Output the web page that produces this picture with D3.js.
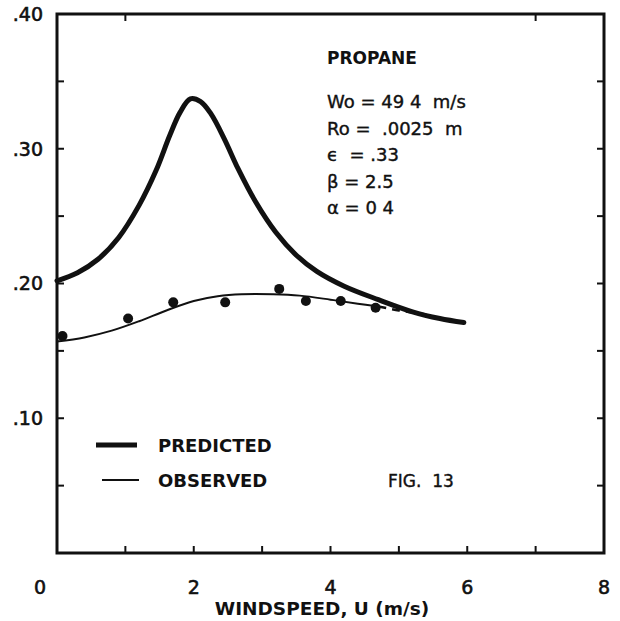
<!DOCTYPE html>
<html><head><meta charset="utf-8">
<script src="https://cdn.jsdelivr.net/npm/d3@7"></script>
<style>body{margin:0;background:#fff}svg{display:block}</style>
</head><body>
<script>
// ---- data ----
const xTicks = [0, 2, 4, 6, 8];
const yTicks = [0.10, 0.20, 0.30, 0.40];
const yTickLabels = [".10", ".20", ".30", ".40"];
const predicted = [[0,0.202],[0.3,0.208],[0.6,0.218],[0.9,0.234],[1.2,0.258],[1.45,0.284],[1.65,0.310],[1.8,0.327],[1.95,0.337],[2.1,0.335],[2.25,0.326],[2.45,0.307],[2.65,0.285],[2.9,0.261],[3.2,0.238],[3.5,0.221],[3.8,0.209],[4.2,0.198],[4.7,0.188],[5.2,0.179],[5.6,0.174],[5.95,0.171]];
const observed = [[0,0.157],[0.4,0.160],[0.8,0.165],[1.2,0.172],[1.6,0.180],[2.0,0.187],[2.35,0.1905],[2.7,0.192],[3.16,0.192],[3.55,0.191],[4.0,0.188],[4.4,0.185],[4.7,0.183]];
const observedExt = [[4.7,0.183],[5.0,0.180],[5.4,0.177]];
const points = [[0.08,0.161],[1.04,0.174],[1.70,0.186],[2.46,0.186],[3.25,0.196],[3.64,0.187],[4.15,0.187],[4.66,0.182]];
const annot = ["Wo = 49 4  m/s", "Ro =  .0025  m", "\u03F5  = .33", "\u03B2 = 2.5", "\u03B1 = 0 4"];
const legendItems = ["PREDICTED", "OBSERVED"];

const W = 620, H = 621;
const svg = d3.select("body").append("svg").attr("width", W).attr("height", H);
const x = d3.scaleLinear().domain([0, 8]).range([57, 604]);
const y = d3.scaleLinear().domain([0, 0.4]).range([553, 14]);
const ink = "#111";
const font = "'DejaVu Sans', sans-serif";

// frame
svg.append("rect").attr("x", x(0)).attr("y", y(0.4)).attr("width", x(8) - x(0)).attr("height", y(0) - y(0.4))
  .attr("fill", "none").attr("stroke", ink).attr("stroke-width", 3);

// ticks
const g = svg.append("g").attr("stroke", ink).attr("stroke-width", 2);
d3.range(1, 8).forEach(v => g.append("line").attr("x1", x(v)).attr("x2", x(v)).attr("y1", y(0)).attr("y2", y(0) - 7));
[1, 7].forEach(v => g.append("line").attr("x1", x(v)).attr("x2", x(v)).attr("y1", y(0.4)).attr("y2", y(0.4) + 7));
d3.range(1, 8).map(i => i * 0.05).forEach(v => {
  g.append("line").attr("x1", x(0)).attr("x2", x(0) + 7).attr("y1", y(v)).attr("y2", y(v));
  g.append("line").attr("x1", x(8)).attr("x2", x(8) - 7).attr("y1", y(v)).attr("y2", y(v));
});

// tick labels
svg.selectAll(".yl").data(yTicks).enter().append("text")
  .attr("x", 43).attr("y", d => y(d)).attr("dy", "0.36em").attr("text-anchor", "end")
  .attr("font-family", font).attr("font-size", 19).attr("fill", ink).attr("stroke", ink).attr("stroke-width", 0.6)
  .text((d, i) => yTickLabels[i]);
svg.selectAll(".xl").data(xTicks).enter().append("text")
  .attr("x", d => x(d) + (d === 0 ? -17 : 0)).attr("y", 594).attr("text-anchor", "middle")
  .attr("font-family", font).attr("font-size", 19).attr("fill", ink).attr("stroke", ink).attr("stroke-width", 0.6)
  .text(d => d);
svg.append("text").attr("x", 322).attr("y", 615).attr("text-anchor", "middle")
  .attr("font-family", font).attr("font-size", 18.5).attr("font-weight", "bold").attr("fill", ink)
  .text("WINDSPEED, U (m/s)");

// curves
const line = d3.line().x(d => x(d[0])).y(d => y(d[1])).curve(d3.curveCatmullRom);
svg.append("path").datum(predicted).attr("d", line).attr("fill", "none").attr("stroke", ink).attr("stroke-width", 5).attr("stroke-linecap", "round");
svg.append("path").datum(observed).attr("d", line).attr("fill", "none").attr("stroke", ink).attr("stroke-width", 2);
svg.append("path").datum(observedExt).attr("d", line).attr("fill", "none").attr("stroke", ink).attr("stroke-width", 2.5).attr("stroke-dasharray", "8,6");
svg.selectAll(".pt").data(points).enter().append("circle")
  .attr("cx", d => x(d[0])).attr("cy", d => y(d[1])).attr("r", 5).attr("fill", ink);

// annotations
svg.append("text").attr("x", 327).attr("y", 64).attr("font-family", font).attr("font-size", 17).attr("font-weight", "bold").attr("fill", ink).text("PROPANE");
svg.selectAll(".an").data(annot).enter().append("text")
  .attr("x", 327).attr("y", (d, i) => 108 + i * 26.5)
  .attr("font-family", font).attr("font-size", 18).attr("fill", ink).attr("stroke", ink).attr("stroke-width", 0.4)
  .attr("xml:space", "preserve").style("white-space", "pre")
  .text(d => d);

// legend
svg.append("line").attr("x1", 96).attr("x2", 137).attr("y1", 445).attr("y2", 445).attr("stroke", ink).attr("stroke-width", 5);
svg.append("line").attr("x1", 102).attr("x2", 139).attr("y1", 480).attr("y2", 480).attr("stroke", ink).attr("stroke-width", 2);
svg.selectAll(".lg").data(legendItems).enter().append("text")
  .attr("x", 158).attr("y", (d, i) => 452 + i * 35)
  .attr("font-family", font).attr("font-size", 18).attr("font-weight", "bold").attr("fill", ink)
  .text(d => d);
svg.append("text").attr("x", 388).attr("y", 487).attr("font-family", font).attr("font-size", 17).attr("fill", ink).attr("stroke", ink).attr("stroke-width", 0.4)
  .attr("xml:space", "preserve").style("white-space", "pre").text("FIG.  13");
</script>
</body></html>
